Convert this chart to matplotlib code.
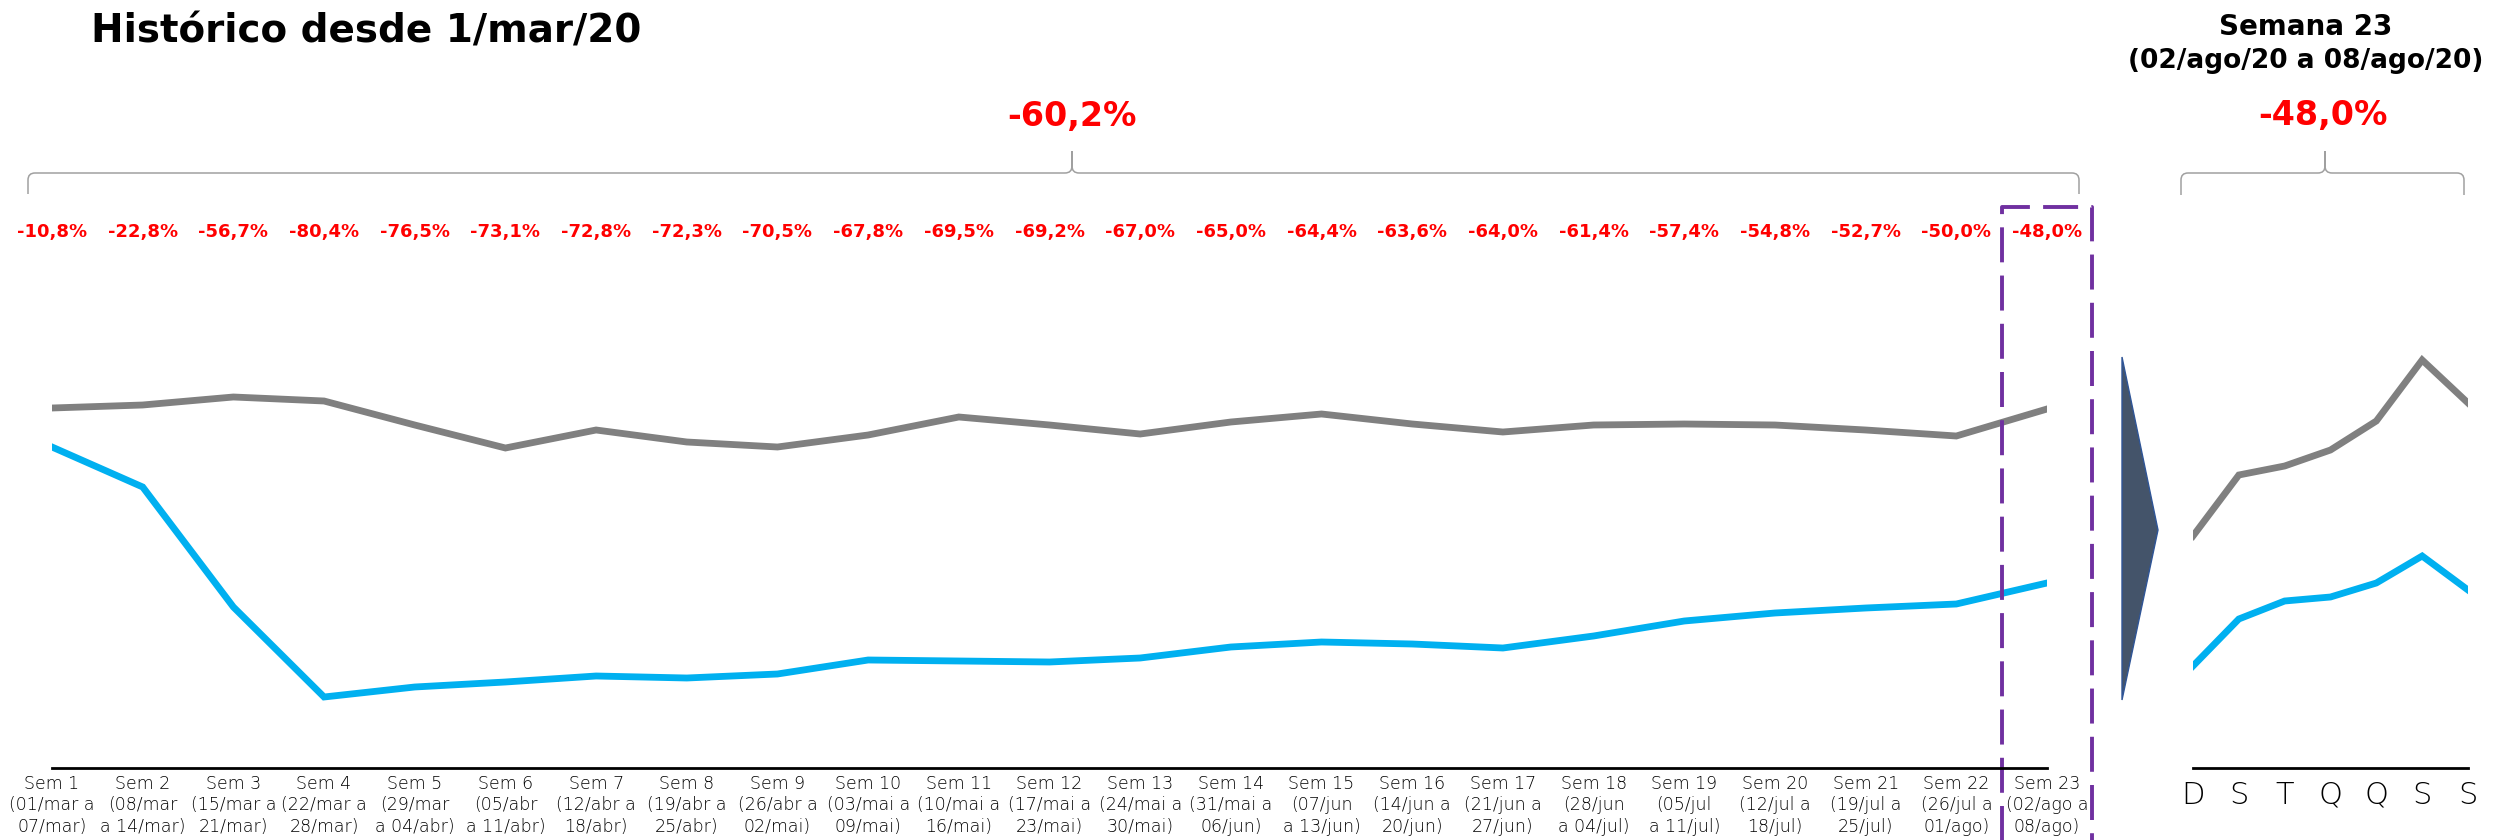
import matplotlib
matplotlib.use("Agg")
import matplotlib.pyplot as plt
from matplotlib.path import Path
from matplotlib.patches import PathPatch, Polygon

# weekly series (index, same scale for both lines)
weeks = list(range(1, 24))
total_visits = [360, 363, 371, 367, 343, 320, 338, 326, 321, 333, 351, 343,
                334, 346, 354, 344, 336, 343, 344, 343, 338, 332, 359]
store_visits = [321, 281, 161, 71, 81, 86, 92, 90, 94, 108, 107, 106,
                110, 121, 126, 124, 120, 132, 147, 155, 160, 164, 185]
week_pct = [-10.8, -22.8, -56.7, -80.4, -76.5, -73.1, -72.8, -72.3, -70.5,
            -67.8, -69.5, -69.2, -67.0, -65.0, -64.4, -63.6, -64.0, -61.4,
            -57.4, -54.8, -52.7, -50.0, -48.0]
week_labels = [
    "Sem 1\n(01/mar a\n07/mar)", "Sem 2\n(08/mar\na 14/mar)",
    "Sem 3\n(15/mar a\n21/mar)", "Sem 4\n(22/mar a\n28/mar)",
    "Sem 5\n(29/mar\na 04/abr)", "Sem 6\n(05/abr\na 11/abr)",
    "Sem 7\n(12/abr a\n18/abr)", "Sem 8\n(19/abr a\n25/abr)",
    "Sem 9\n(26/abr a\n02/mai)", "Sem 10\n(03/mai a\n09/mai)",
    "Sem 11\n(10/mai a\n16/mai)", "Sem 12\n(17/mai a\n23/mai)",
    "Sem 13\n(24/mai a\n30/mai)", "Sem 14\n(31/mai a\n06/jun)",
    "Sem 15\n(07/jun\na 13/jun)", "Sem 16\n(14/jun a\n20/jun)",
    "Sem 17\n(21/jun a\n27/jun)", "Sem 18\n(28/jun\na 04/jul)",
    "Sem 19\n(05/jul\na 11/jul)", "Sem 20\n(12/jul a\n18/jul)",
    "Sem 21\n(19/jul a\n25/jul)", "Sem 22\n(26/jul a\n01/ago)",
    "Sem 23\n(02/ago a\n08/ago)",
]
total_pct = -60.2
last_week_pct = -48.0

# daily series for week 23
days = ["D", "S", "T", "Q", "Q", "S", "S"]
total_daily = [232, 293, 302, 318, 347, 408, 365]
store_daily = [102, 149, 167, 171, 185, 212, 178]

GRAY = "#808080"
BLUE = "#00B0F0"
RED = "#FF0000"
PURPLE = "#7030A0"

W, H = 2498, 840


def fx(px):
    return px / W


def fy(py):
    return 1 - py / H


def pct(v):
    return ("%.1f%%" % v).replace(".", ",")


def brace(fig, x0, x1, xm, y_line, y_end, y_tip, r=7):
    # curly bracket drawn in pixel coords (origin top-left)
    pts = [(x0, y_end), (x0, y_line + r), (x0, y_line), (x0 + r, y_line),
           (xm - r, y_line), (xm, y_line), (xm, y_line - r), (xm, y_tip),
           (xm, y_line - r), (xm, y_line), (xm + r, y_line),
           (x1 - r, y_line), (x1, y_line), (x1, y_line + r), (x1, y_end)]
    codes = [Path.MOVETO, Path.LINETO, Path.CURVE3, Path.CURVE3,
             Path.LINETO, Path.CURVE3, Path.CURVE3, Path.LINETO,
             Path.LINETO, Path.CURVE3, Path.CURVE3,
             Path.LINETO, Path.CURVE3, Path.CURVE3, Path.LINETO]
    verts = [(fx(a), fy(b)) for a, b in pts]
    fig.add_artist(PathPatch(Path(verts, codes), facecolor="none",
                             edgecolor="#A0A0A0", lw=1.1,
                             transform=fig.transFigure))


plt.rcParams["font.family"] = ["DejaVu Sans"]

fig = plt.figure(figsize=(W / 100, H / 100), dpi=100)

# main weekly chart
ax1 = fig.add_axes([fx(52), fy(768), fx(2047) - fx(52), 600 / H])
x = [w - 1 for w in weeks]
ax1.plot(x, total_visits, color=GRAY, lw=4.9, solid_joinstyle="miter")
ax1.plot(x, store_visits, color=BLUE, lw=4.9, solid_joinstyle="miter")
ax1.set_xlim(0, 22)
ax1.set_ylim(0, 600)
for s in ["top", "left", "right"]:
    ax1.spines[s].set_visible(False)
ax1.spines["bottom"].set_linewidth(2)
ax1.set_yticks([])
ax1.set_xticks(x)
ax1.set_xticklabels(week_labels, fontsize=12.5, linespacing=1.25,
                    color="black", fontweight="light")
ax1.tick_params(axis="x", length=0, pad=5)

for i, v in zip(x, week_pct):
    ax1.text(i, 768 - 237, pct(v), ha="center", va="baseline", color=RED,
             fontsize=13, fontweight="bold", clip_on=False)

# dashed highlight around the last week
ax1.plot([21.5, 21.5, 22.5, 22.5], [-150, 561, 561, -150], color=PURPLE,
         lw=2.8, ls=(0, (9, 3.4)), clip_on=False)

# daily chart for week 23
ax2 = fig.add_axes([fx(2193), fy(768), fx(2468) - fx(2193), 600 / H])
xd = list(range(len(days)))
ax2.plot(xd, total_daily, color=GRAY, lw=4.9, solid_joinstyle="miter")
ax2.plot(xd, store_daily, color=BLUE, lw=4.9, solid_joinstyle="miter")
ax2.set_xlim(0, 6)
ax2.set_ylim(0, 600)
for s in ["top", "left", "right"]:
    ax2.spines[s].set_visible(False)
ax2.spines["bottom"].set_linewidth(2)
ax2.set_yticks([])
ax2.set_xticks(xd)
ax2.set_xticklabels(days, fontsize=22, color="black", fontweight="light")
ax2.tick_params(axis="x", length=0, pad=9)

# arrow between the panels
fig.add_artist(Polygon([(fx(2122), fy(357)), (fx(2158), fy(530)),
                        (fx(2122), fy(700))], closed=True,
                       facecolor="#44546A", edgecolor="#2F5597", lw=1,
                       transform=fig.transFigure))

# titles and totals
fig.text(fx(91), fy(43), "Histórico desde 1/mar/20", ha="left",
         va="baseline", fontsize=28, fontweight="bold")
fig.text(fx(2306), fy(35), "Semana 23", ha="center", va="baseline",
         fontsize=20, fontweight="bold")
fig.text(fx(2306), fy(68), "(02/ago/20 a 08/ago/20)", ha="center",
         va="baseline", fontsize=19, fontweight="bold")
fig.text(fx(1072), fy(126), pct(total_pct), ha="center", va="baseline",
         fontsize=24, fontweight="bold", color=RED)
fig.text(fx(2323), fy(125), pct(last_week_pct), ha="center", va="baseline",
         fontsize=24, fontweight="bold", color=RED)

brace(fig, 28, 2079, 1072, 173, 194, 151)
brace(fig, 2181, 2464, 2325, 173, 195, 151)

fig.savefig("out.png", dpi=100)
